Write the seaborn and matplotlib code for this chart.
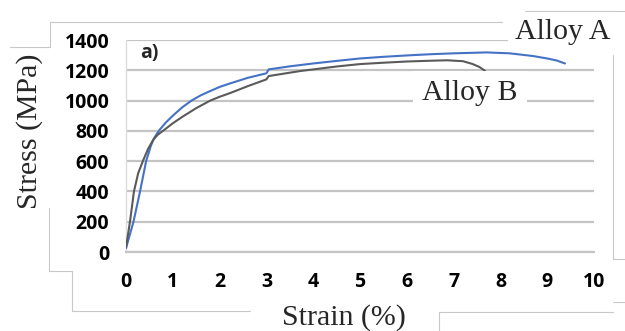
import matplotlib
matplotlib.use("Agg")
import matplotlib.pyplot as plt
from matplotlib.lines import Line2D
import seaborn as sns
import pandas as pd

# ---- data ----
strain_a = [0.0, 0.16, 0.30, 0.43, 0.53, 0.60, 0.70, 0.85, 1.0, 1.2, 1.4, 1.6, 1.8, 2.0,
            2.22, 2.6, 3.0, 3.05, 3.5, 4.0, 4.5, 5.0, 5.5, 6.0, 6.5, 7.0, 7.7, 8.2,
            8.7, 9.0, 9.2, 9.38]
stress_a = [25, 200, 400, 600, 700, 752, 800, 855, 900, 955, 1000, 1035, 1063, 1090,
            1113, 1150, 1180, 1206, 1226, 1245, 1262, 1278, 1289, 1298, 1306, 1312, 1318, 1312,
            1294, 1278, 1265, 1245]

strain_b = [0.0, 0.085, 0.17, 0.26, 0.36, 0.47, 0.58, 0.68, 0.79, 1.0, 1.2, 1.5, 1.8, 2.0,
            2.22, 2.6, 3.0, 3.05, 3.72, 4.5, 5.0, 5.5, 6.0, 6.5, 6.86, 7.2, 7.4, 7.55, 7.67]
stress_b = [30, 200, 400, 520, 600, 680, 740, 775, 800, 850, 892, 950, 1000, 1025,
            1049, 1095, 1140, 1162, 1195, 1225, 1241, 1250, 1258, 1263, 1266, 1260, 1242,
            1222, 1197]

alloys = ["Alloy A", "Alloy B"]
x_ticks = list(range(0, 11))
y_ticks = list(range(0, 1401, 200))

df = pd.DataFrame({
    "Strain": strain_a + strain_b,
    "Stress": stress_a + stress_b,
    "Alloy": [alloys[0]] * len(strain_a) + [alloys[1]] * len(strain_b),
})

sns.set_theme(style="white")
plt.rcParams["font.family"] = ["DejaVu Sans"]

W, H = 625, 331
fig = plt.figure(figsize=(W / 100, H / 100), dpi=100)
ax = fig.add_axes([126 / W, 1 - 252 / H, 468 / W, 212 / H])

sns.lineplot(data=df, x="Strain", y="Stress", hue="Alloy", sort=False,
             palette={"Alloy A": "#4472C4", "Alloy B": "#5a5a5a"},
             linewidth=1.5, legend=False, ax=ax, zorder=3)

ax.set_xlim(0, 10)
ax.set_ylim(0, 1400)
ax.set_xticks(x_ticks)
ax.set_yticks(y_ticks)
ax.set_xticklabels([str(v) for v in x_ticks], fontfamily="Open Sans",
                   fontweight="bold", fontsize=14)
ax.set_yticklabels([str(v) for v in y_ticks], fontfamily="Open Sans",
                   fontweight="bold", fontsize=14)
ax.yaxis.grid(True, color="#c4c4c4", linewidth=1.6)
ax.xaxis.grid(False)
ax.tick_params(axis="y", length=0, pad=12, colors="black")
ax.tick_params(axis="x", length=3, width=1, color="#c8c8c8", pad=13,
               direction="inout", labelcolor="black")
for s in ["top", "right"]:
    ax.spines[s].set_visible(False)
ax.spines["left"].set_color("#dcdcdc")
ax.spines["left"].set_linewidth(1.0)
ax.spines["bottom"].set_color("#c4c4c4")
ax.spines["bottom"].set_linewidth(1.6)

ax.set_xlabel("Strain (%)", fontfamily="Liberation Serif", fontsize=21.5)
ax.set_ylabel("Stress (MPa)", fontfamily="Liberation Serif", fontsize=21.5)
ax.xaxis.set_label_coords(344 / W, 1 - 318 / H, transform=fig.transFigure)
ax.yaxis.set_label_coords(30 / W, 1 - 131 / H, transform=fig.transFigure)
ax.xaxis.label.set_va("center")
ax.yaxis.label.set_va("center")

ax.text(0.03, 0.94, "a)", transform=ax.transAxes, fontfamily="Open Sans",
        fontweight="bold", fontsize=14, ha="left", va="center")

# series labels with white boxes as in the reference
fig.text(563 / W, 1 - 32 / H, alloys[0], fontfamily="Liberation Serif", fontsize=21.5,
         ha="center", va="center", zorder=5,
         bbox=dict(boxstyle="square,pad=0.25", fc="white", ec="none"))
fig.text(470 / W, 1 - 93 / H, alloys[1], fontfamily="Liberation Serif", fontsize=21.5,
         ha="center", va="center", zorder=5,
         bbox=dict(boxstyle="square,pad=0.3", fc="white", ec="none"))

# faint frame remnants of the original figure
frame_segments = [
    ((50, 22), (502, 22)), ((50, 22), (50, 47)), ((10, 47), (50, 47)),
    ((49, 208), (49, 271)), ((49, 271), (72, 271)), ((72, 271), (72, 311)),
    ((72, 311), (250, 311)), ((525, 11), (625, 11)), ((613, 55), (613, 259)),
    ((613, 259), (625, 259)), ((613, 302), (625, 302)), ((439, 312), (613, 312)),
    ((439, 312), (439, 331)),
]
for (x0, y0), (x1, y1) in frame_segments:
    fig.add_artist(Line2D([x0 / W, x1 / W], [1 - y0 / H, 1 - y1 / H],
                          transform=fig.transFigure, color="#c8c8c8",
                          linewidth=0.8, zorder=0))

fig.savefig("out.png", dpi=100)
